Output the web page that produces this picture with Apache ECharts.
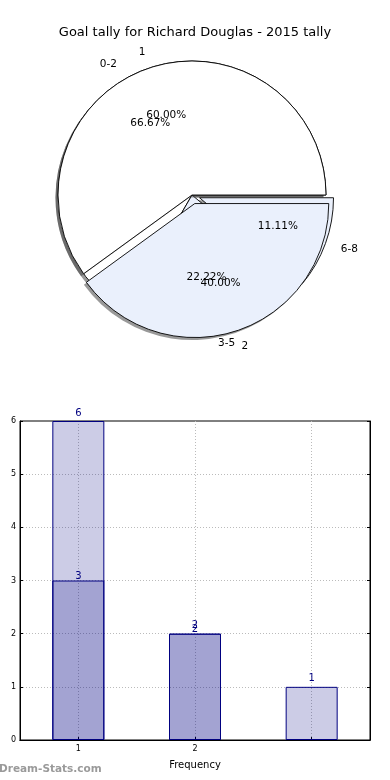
<!DOCTYPE html>
<html><head><meta charset="utf-8">
<script src="https://cdn.jsdelivr.net/npm/echarts@6/dist/echarts.min.js"></script>
<style>html,body{margin:0;padding:0;background:#fff}#c{width:390px;height:780px}</style>
</head><body><div id="c"></div>
<script>
// Data
const titleText = 'Goal tally for Richard Douglas - 2015 tally';
const rangeNames = ['0-2', '3-5', '6-8'];
const rangeCounts = [6, 2, 1];
const freqNames = ['1', '2'];
const freqCounts = [3, 2];
const barCategories = ['1', '2', ''];
const barLight = [6, 2, 1];
const barDark = [3, 2, '-'];
const xAxisName = 'Frequency';
const yMin = 0, yMax = 6, yInterval = 1;

const FONT = 'DejaVu Sans';
const BLUE = '#eaf0fc';
const R = 134;
const CX = 192, CY = 195;
const SH = 2.5;
const rangeColors = ['#ffffff', BLUE, BLUE];
const freqColors = ['#ffffff', BLUE];
const rangeSelected = [false, false, true];
const freqSelected = [false, true];

function slices(names, vals, colors, sel) {
  return names.map((n, i) => ({name: n, value: vals[i], selected: sel[i], itemStyle: colors ? {color: colors[i]} : {}}));
}
function labelSlices(names, vals, sel, pads) {
  return names.map((n, i) => ({name: n, value: vals[i], selected: sel[i],
    label: pads ? {padding: pads[i]} : {}}));
}
const basePie = {
  type: 'pie', startAngle: 0, clockwise: false,
  selectedMode: 'multiple', avoidLabelOverlap: false, animation: false,
  emphasis: {disabled: true}, labelLine: {show: false}, labelLayout: {hideOverlap: false}
};
function shapePie(names, vals, colors, sel, offset, z) {
  return Object.assign({}, basePie, {
    radius: R, z: z, center: [CX, CY], selectedOffset: offset, silent: true,
    data: slices(names, vals, colors, sel),
    label: {show: false},
    itemStyle: {borderColor: '#000', borderWidth: 0.9}
  });
}
function shadowPie(names, vals, sel, offset, z) {
  return Object.assign({}, basePie, {
    radius: R, z: z, center: [CX - SH, CY + SH], selectedOffset: offset, silent: true,
    data: slices(names, vals, null, sel),
    label: {show: false},
    itemStyle: {color: 'rgba(70,70,70,0.55)', borderWidth: 0}
  });
}
function textPie(names, vals, sel, offset, radius, z, fmt, pads) {
  return Object.assign({}, basePie, {
    radius: radius, z: z, center: [CX, CY], silent: true, selectedOffset: offset,
    data: labelSlices(names, vals, sel, pads),
    itemStyle: {color: 'rgba(0,0,0,0)', borderWidth: 0},
    label: {show: true, position: 'inside', color: '#000', fontFamily: FONT, fontSize: 10.5, formatter: fmt}
  });
}
const pct = p => p.percent.toFixed(2) + '%';
const nm = p => p.name;

const chart = echarts.init(document.getElementById('c'), null, {renderer: 'canvas'});
chart.setOption({
  animation: false,
  title: {text: titleText, left: 'center', top: 21, textStyle: {fontFamily: FONT, fontSize: 13, fontWeight: 'normal', color: '#000'}},
  grid: {left: 20, right: 20, top: 421, bottom: 40, show: true, borderColor: '#000', borderWidth: 1, backgroundColor: '#fff'},
  xAxis: [{
    type: 'category', data: barCategories,
    name: xAxisName, nameLocation: 'middle', nameGap: 20,
    nameTextStyle: {fontFamily: FONT, fontSize: 10, color: '#000'},
    axisLine: {lineStyle: {color: '#000'}},
    axisTick: {show: true, alignWithLabel: true, inside: true, length: 3, lineStyle: {color: '#000'}},
    axisLabel: {fontFamily: FONT, fontSize: 8, color: '#000', margin: 5},
    splitLine: {show: true, alignWithLabel: true, lineStyle: {color: '#bbb', type: [1, 2]}}
  }, {
    type: 'category', data: barCategories, position: 'top', z: 10,
    axisLine: {show: true, lineStyle: {color: '#000'}},
    axisTick: {show: false}, axisLabel: {show: false}, splitLine: {show: false}
  }],
  yAxis: [{
    type: 'value', min: yMin, max: yMax, interval: yInterval,
    axisLine: {show: true, lineStyle: {color: '#000'}},
    axisTick: {show: true, inside: true, length: 3, lineStyle: {color: '#000'}},
    axisLabel: {fontFamily: FONT, fontSize: 8, color: '#000', margin: 4},
    splitLine: {show: true, showMaxLine: false, showMinLine: false, lineStyle: {color: '#bbb', type: [1, 2]}}
  }, {
    type: 'value', min: yMin, max: yMax, interval: yInterval, position: 'right', z: 10,
    axisLine: {show: true, lineStyle: {color: '#000'}},
    axisTick: {show: true, inside: true, length: 3, lineStyle: {color: '#000'}},
    axisLabel: {show: false}, splitLine: {show: false}
  }],
  series: [
    shadowPie(rangeNames, rangeCounts, rangeSelected, 8, 1),
    shapePie(rangeNames, rangeCounts, rangeColors, rangeSelected, 8, 2),
    shadowPie(freqNames, freqCounts, freqSelected, 9, 3),
    shapePie(freqNames, freqCounts, freqColors, freqSelected, 9, 4),
    textPie(rangeNames, rangeCounts, rangeSelected, 8, [0, R * 1.2], 5, pct),
    textPie(freqNames, freqCounts, freqSelected, 9, [0, R * 1.2], 5, pct),
    textPie(rangeNames, rangeCounts, rangeSelected, 8, [R, R * 1.2], 5, nm, [[0, 17, 0, 0], [0, 0, 0, 17], [0, 0, 0, 17]]),
    textPie(freqNames, freqCounts, freqSelected, 9, [R, R * 1.2], 5, nm, [[0, 7, 0, 0], [0, 0, 0, 7]]),
    {
      type: 'bar', data: barLight, barWidth: 52, barGap: '-100%', z: 2,
      itemStyle: {color: 'rgba(0,0,128,0.2)', borderColor: '#000080', borderWidth: 1},
      label: {show: true, position: 'top', distance: 3, color: '#000080', fontFamily: FONT, fontSize: 10}
    },
    {
      type: 'bar', data: barDark, barWidth: 52, barGap: '-100%', z: 3,
      itemStyle: {color: 'rgba(0,0,128,0.2)', borderColor: '#000080', borderWidth: 1},
      label: {show: true, position: 'top', distance: -1, color: '#000080', fontFamily: FONT, fontSize: 10}
    }
  ],
  graphic: [{type: 'text', left: -1, top: 764, silent: true,
    style: {text: 'Dream-Stats.com', fill: '#9a9a9a', font: 'bold 10.5px "DejaVu Sans"'}}]
});
</script></body></html>
